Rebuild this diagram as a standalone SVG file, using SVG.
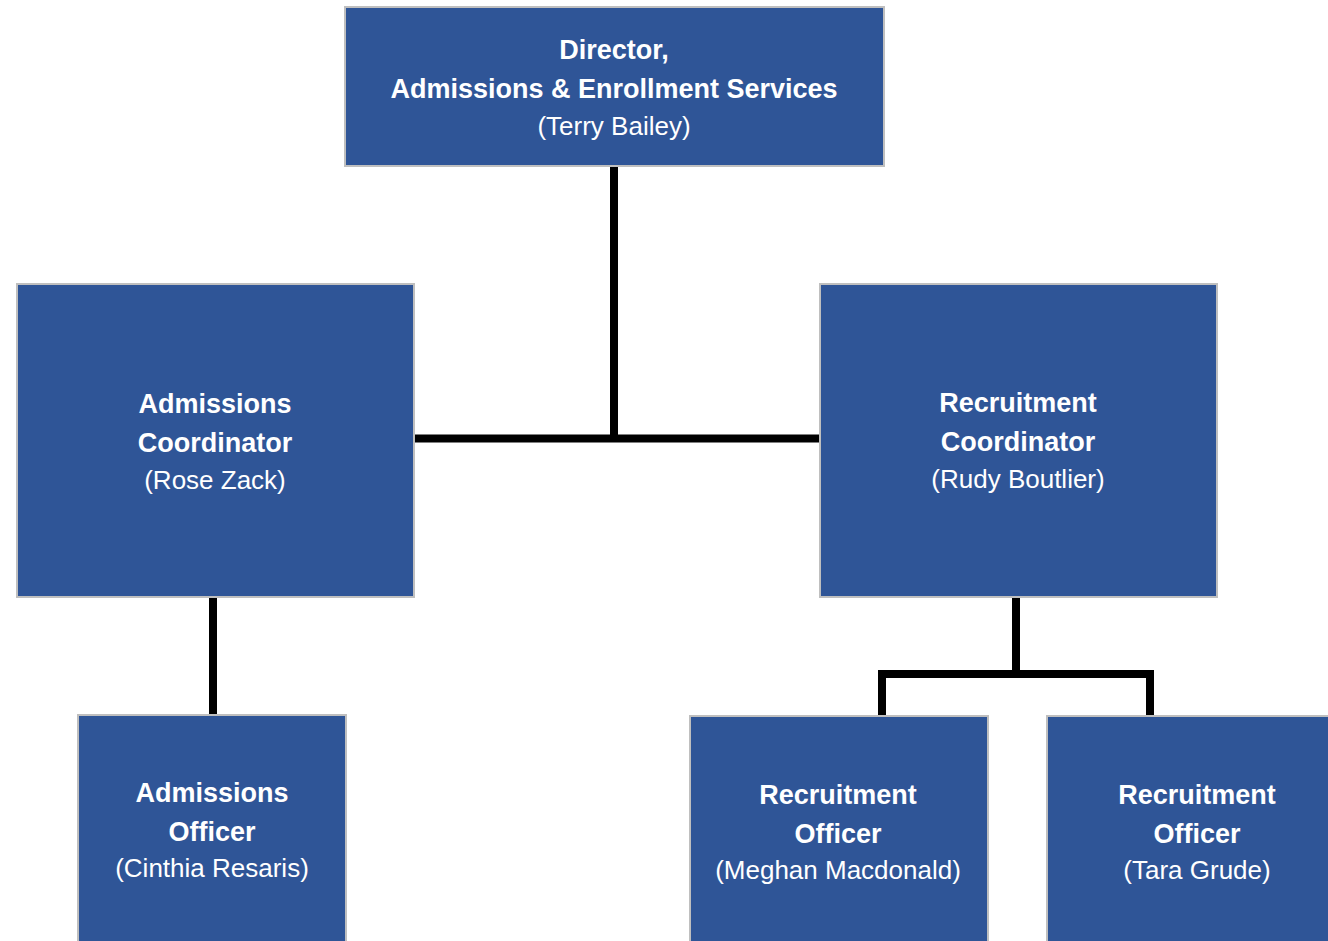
<svg xmlns="http://www.w3.org/2000/svg" width="1328" height="941" viewBox="0 0 1328 941">
<style>
.box{fill:#2F5597;stroke:#BFBFBF;stroke-width:2}
.t{font-family:"Liberation Sans",Arial,sans-serif;fill:#FFFFFF;text-anchor:middle}
.b{font-weight:bold;font-size:27px}
.r{font-size:26px}
.c{fill:none;stroke:#000000;stroke-width:8;stroke-linecap:butt;stroke-linejoin:miter}
</style>
<rect width="1328" height="941" fill="#FFFFFF"/>
<g id="connectors">
<path class="c" d="M614,166 V438.5"/>
<path class="c" d="M415,438.5 H819"/>
<path class="c" d="M213,597 V714"/>
<path class="c" d="M1016,597 V674"/>
<path class="c" d="M882,715 V674 H1150 V715"/>
</g>
<g id="director">
<rect class="box" x="345" y="7" width="539" height="159"/>
<text class="t b" x="614" y="59">Director,</text>
<text class="t b" x="614" y="98">Admissions &amp; Enrollment Services</text>
<text class="t r" x="614" y="135">(Terry Bailey)</text>
</g>
<g id="admissions-coordinator">
<rect class="box" x="17" y="284" width="397" height="313"/>
<text class="t b" x="215" y="413">Admissions</text>
<text class="t b" x="215" y="452">Coordinator</text>
<text class="t r" x="215" y="489">(Rose Zack)</text>
</g>
<g id="recruitment-coordinator">
<rect class="box" x="820" y="284" width="397" height="313"/>
<text class="t b" x="1018" y="412">Recruitment</text>
<text class="t b" x="1018" y="451">Coordinator</text>
<text class="t r" x="1018" y="488">(Rudy Boutlier)</text>
</g>
<g id="admissions-officer">
<rect class="box" x="78" y="715" width="268" height="240"/>
<text class="t b" x="212" y="802">Admissions</text>
<text class="t b" x="212" y="841">Officer</text>
<text class="t r" x="212" y="877">(Cinthia Resaris)</text>
</g>
<g id="recruitment-officer-1">
<rect class="box" x="690" y="716" width="298" height="240"/>
<text class="t b" x="838" y="804">Recruitment</text>
<text class="t b" x="838" y="843">Officer</text>
<text class="t r" x="838" y="879">(Meghan Macdonald)</text>
</g>
<g id="recruitment-officer-2">
<rect class="box" x="1047" y="716" width="300" height="240"/>
<text class="t b" x="1197" y="804">Recruitment</text>
<text class="t b" x="1197" y="843">Officer</text>
<text class="t r" x="1197" y="879">(Tara Grude)</text>
</g>
</svg>
